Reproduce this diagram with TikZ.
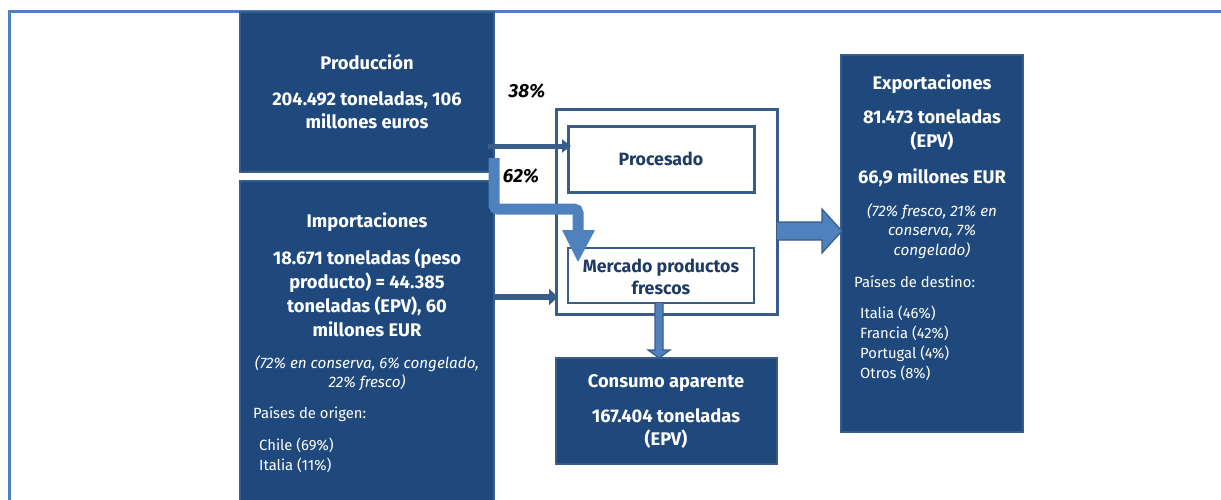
\documentclass[tikz,border=0pt]{standalone}
\usepackage{fontspec}
\setmainfont{Fira Sans}
\usetikzlibrary{arrows.meta}
\definecolor{darkfill}{HTML}{1F497D}
\definecolor{darkline}{HTML}{385D8A}
\definecolor{lightblue}{HTML}{4F81BD}
\definecolor{navytext}{HTML}{1F3B63}
\tikzset{
  darkbox/.style={fill=darkfill, draw=darkline, line width=2pt},
  whitebox/.style={fill=white, draw=darkline, line width=3pt},
  thinbox/.style={fill=white, draw=darkline, line width=1.5pt},
  wbold/.style={text=white, font=\bfseries\fontsize{18.3}{23.5}\selectfont, align=center, inner sep=0pt},
  witalic/.style={text=white, font=\itshape\fontsize{15.2}{19.5}\selectfont, align=center, inner sep=0pt},
  wplain/.style={text=white, font=\fontsize{14.8}{20}\selectfont, align=left, inner sep=0pt, anchor=west},
  nbold/.style={text=navytext, font=\bfseries\fontsize{17.8}{22}\selectfont, align=center, inner sep=0pt},
  pct/.style={text=black, font=\bfseries\itshape\fontsize{19}{20}\selectfont, inner sep=0pt},
  thinarrow/.style={draw=darkline, line width=5pt, -{Triangle[length=9pt,width=13pt]}},
  blockarrow/.style={fill=lightblue, draw=darkline, line width=1.2pt, line join=miter},
}
\begin{document}
\begin{tikzpicture}[x=1pt,y=-1pt]
\useasboundingbox (0,0) rectangle (1221,499);
% frame
\draw[lightblue, line width=3pt] (9,520) -- (9,11) -- (1230,11);

% boxes
\path[darkbox] (240,12) rectangle (494,172);
\path[darkbox] (240,181) rectangle (494,520);
\path[whitebox] (556,109) rectangle (777,314);
\path[whitebox] (568,126) rectangle (754,192);
\path[thinbox] (568,248) rectangle (754,303);
\path[darkbox] (556,358) rectangle (777,464);
\path[darkbox] (841,55) rectangle (1023,432);

% Producción
\node[wbold] (prodT) at (367,62) {Producción};
\node[wbold] (prodV) at (367,110) {204.492 toneladas, 106\\millones euros};

% Importaciones
\node[wbold] (impT) at (367,222) {Importaciones};
\node[wbold, font=\bfseries\fontsize{18.3}{24}\selectfont] (impV) at (367,293) {18.671 toneladas (peso\\producto) = 44.385\\toneladas (EPV), 60\\millones EUR};
\node[witalic] (impI) at (367,373) {(72\% en conserva, 6\% congelado,\\22\% fresco)};
\node[wplain] (impP) at (253,414) {Países de origen:};
\node[wplain] (impL) at (259,455) {Chile (69\%)\\Italia (11\%)};

% Procesado / Mercado
\node[nbold] (procT) at (661,159) {Procesado};
\node[nbold] (merc) at (661,277) {Mercado productos\\frescos};

% Consumo
\node[wbold] (consT) at (666,383) {Consumo aparente};
\node[wbold] (consV) at (666,428.5) {167.404 toneladas\\(EPV)};

% Exportaciones
\node[wbold] (expT) at (932,84) {Exportaciones};
\node[wbold] (expV) at (932,130) {81.473 toneladas\\(EPV)};
\node[wbold] (expM) at (932,178) {66,9 millones EUR};
\node[witalic] (expI) at (932,231) {(72\% fresco, 21\% en\\conserva, 7\%\\congelado)};
\node[wplain] (expP) at (854,282) {Países de destino:};
\node[wplain] (expL) at (860,343) {Italia (46\%)\\Francia (42\%)\\Portugal (4\%)\\Otros (8\%)};

% percent labels
\node[pct] (p38) at (527,91) {38\%};
\node[pct] (p62) at (521,176) {62\%};

% connectors
\coordinate (a38s) at (488,146);
\coordinate (a38e) at (571,146);
\draw[thinarrow] (a38s) -- (a38e);

\coordinate (impS) at (494,297);
\coordinate (impE) at (558,297);
\draw[draw=darkline, line width=6pt, -{Triangle[length=9pt,width=16pt]}] (impS) -- (impE);

% 62% bent arrow
\coordinate (b62s) at (494,158);
\coordinate (b62a) at (494,209);
\coordinate (b62b) at (578,209);
\coordinate (b62c) at (578,231);
\draw[lightblue, line width=11pt, rounded corners=4pt] (b62s) -- (b62a) -- (b62b) -- (b62c);
\fill[lightblue] (562,230) -- (595,230) -- (578,262) -- cycle;

% export block arrow
\draw[blockarrow] (777,222) -- (822,222) -- (822,209) -- (842,231) -- (822,253) -- (822,240) -- (777,240);

% consumo block arrow
\draw[blockarrow] (655,303) -- (655,350) -- (648,350) -- (659,358) -- (670,350) -- (663,350) -- (663,303);
\end{tikzpicture}
\end{document}
